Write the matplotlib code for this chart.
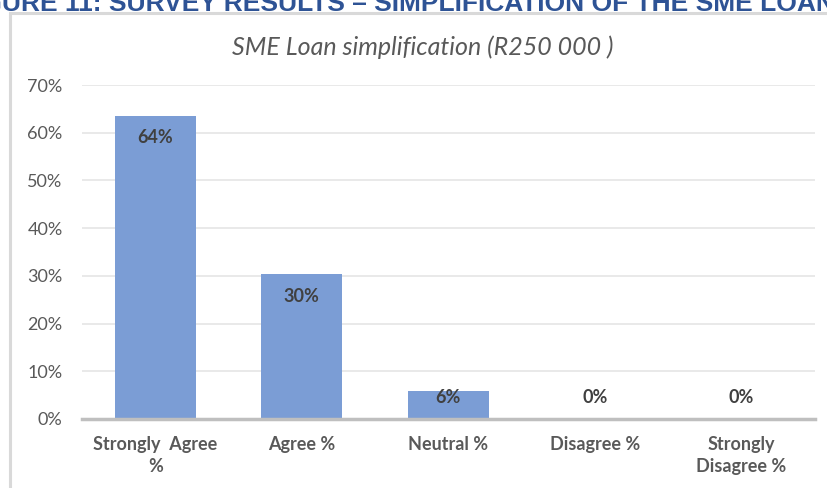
import numpy as np
import matplotlib
matplotlib.use("Agg")
import matplotlib.pyplot as plt
from matplotlib.patches import Rectangle

# Survey answers for the loan simplification question
categories = ["Strongly  Agree\n%", "Agree %", "Neutral %", "Disagree %", "Strongly\nDisagree %"]
shares = [63.5, 30.3, 5.9, 0.0, 0.0]
yticks = [0, 10, 20, 30, 40, 50, 60, 70]

plt.rcParams["font.family"] = ["Lato", "DejaVu Sans"]

fig = plt.figure(figsize=(8.27, 4.88), dpi=100)
ax = fig.add_axes([0.0992, 0.1414, 0.886, 0.6844])

ind = np.arange(len(categories))
ax.bar(ind, shares, 0.553, color="#7B9DD5", zorder=2)

# Value labels sit just inside the bar top, or above the axis for tiny bars
off = 4.6
for i, v in enumerate(shares):
    ax.text(i, max(v - off, off), "%d%%" % round(v), ha="center", va="center",
            fontsize=13, fontweight="bold", color="#404040", zorder=3)

ax.set_xlim(-0.5, 4.5)
ax.set_ylim(0, 70)
ax.set_yticks(yticks)
ax.set_yticklabels(["%d%%" % t for t in yticks], fontsize=13, color="#595959")
ax.set_xticks(ind)
ax.set_xticklabels(categories, fontsize=13, fontweight="bold", color="#595959",
                   linespacing=1.4, va="top")
ax.tick_params(axis="both", length=0)
ax.tick_params(axis="y", pad=14)
ax.tick_params(axis="x", pad=12)

ax.grid(axis="y", color="#E9E9E9", linewidth=1.4, zorder=0)
for s in ["top", "right", "left"]:
    ax.spines[s].set_visible(False)
ax.spines["bottom"].set_color("#BFBFBF")
ax.spines["bottom"].set_linewidth(2.5)
ax.spines["bottom"].set_zorder(4)

# Chart title
fig.text(423 / 827, 1 - 47 / 488, "SME Loan simplification (R250 000 )", ha="center", va="center",
         fontsize=18, fontstyle="italic", color="#595959")

# Border of the chart area
fig.patches.append(Rectangle((10 / 827, -0.1), 1.0, (488 - 13) / 488 + 0.1,
                             transform=fig.transFigure, fill=False,
                             edgecolor="#D9D9D9", linewidth=2.2))

# Figure caption from the page above, cut by the top edge
fig.text(-42 / 827, 1 - 11 / 488,
         "FIGURE 11: SURVEY RESULTS \u2013 SIMPLIFICATION OF THE SME LOAN APPLICATION",
         ha="left", va="baseline", fontsize=19, fontweight="bold",
         family=["Liberation Sans", "DejaVu Sans"], color="#2E5395")

plt.savefig("out.png", dpi=100)
